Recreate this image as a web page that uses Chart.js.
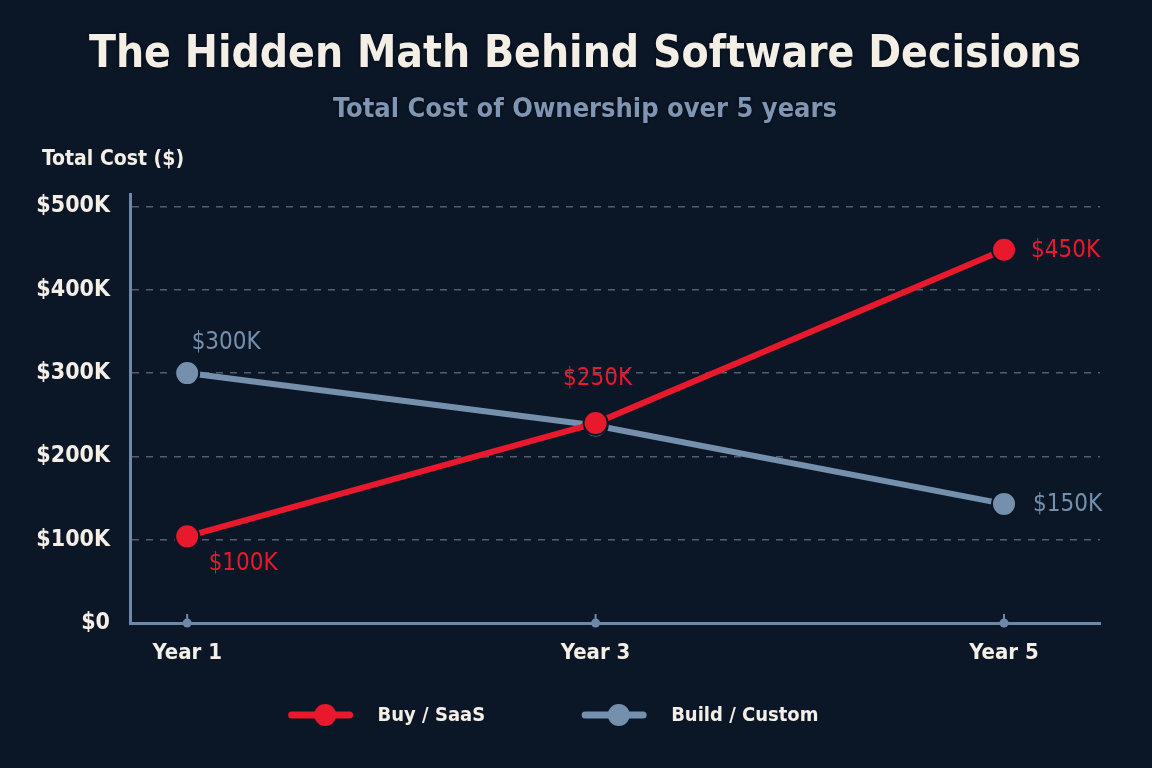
<!DOCTYPE html>
<html>
<head>
<meta charset="utf-8">
<script src="https://cdn.jsdelivr.net/npm/chart.js@4.4.1/dist/chart.umd.min.js"></script>
<style>
  html, body { margin: 0; padding: 0; background: #0b1727; }
  #wrap { width: 1152px; height: 768px; position: relative; }
</style>
</head>
<body>
<div id="wrap"><canvas id="tco"></canvas></div>
<script>
// ---- données (coût total, en milliers de $) ----
const years       = ['Year 1', 'Year 3', 'Year 5'];
const yearNums    = [1, 3, 5];
const buyCost     = [104, 240, 448];
const buildCost   = [300, 237, 143];
const buyLabels   = ['$100K', '$250K', '$450K'];
const buildLabels = ['$300K', '', '$150K'];
const yTicks      = [0, 100, 200, 300, 400, 500];

const TITLE    = 'The Hidden Math Behind Software Decisions';
const SUBTITLE = 'Total Cost of Ownership over 5 years';

const FONT   = '"Liberation Sans Narrow", "DejaVu Sans Condensed", Roboto, sans-serif';
const RED    = '#e8192c';
const SLATE  = '#7590ad';
const AXIS   = '#6d88a8';
const CREAM  = '#f4efe6';
const BG     = '#0b1727';

const fmtK = v => v === 0 ? '$0' : '$' + v + 'K';

// fond
const bgPlugin = {
  id: 'bg',
  beforeDraw(chart) {
    const { ctx, width, height } = chart;
    ctx.save();
    ctx.fillStyle = BG;
    ctx.fillRect(0, 0, width, height);
    ctx.restore();
  }
};

// titres, titre d'axe, repères de l'axe x, étiquettes de valeurs, légende
const extrasPlugin = {
  id: 'extras',
  afterDraw(chart) {
    const { ctx, scales: { x, y } } = chart;
    ctx.save();
    ctx.textBaseline = 'middle';

    // title + subtitle (centred slightly right of canvas centre, like the original)
    ctx.textAlign = 'center';
    ctx.shadowColor = 'rgba(0,0,0,0.8)';
    ctx.shadowBlur = 3;
    ctx.font = `bold 44px ${FONT}`;
    ctx.fillStyle = CREAM;
    ctx.fillText(TITLE, 585, 56);
    ctx.font = `bold 27px ${FONT}`;
    ctx.fillStyle = '#7e95b3';
    ctx.fillText(SUBTITLE, 585, 110);
    ctx.shadowBlur = 0;
    ctx.shadowColor = 'transparent';

    // Y axis title (horizontal, top-left)
    ctx.font = `bold 21px ${FONT}`;
    ctx.fillStyle = CREAM;
    ctx.textAlign = 'left';
    ctx.fillText('Total Cost ($)', 42, 160);

    // x tick markers (small stem + dot on the axis)
    const y0 = y.getPixelForValue(0);
    yearNums.forEach(v => {
      const px = x.getPixelForValue(v);
      ctx.strokeStyle = AXIS;
      ctx.lineWidth = 2;
      ctx.beginPath();
      ctx.moveTo(px, y0 - 9);
      ctx.lineTo(px, y0);
      ctx.stroke();
      ctx.fillStyle = AXIS;
      ctx.beginPath();
      ctx.arc(px, y0, 4.5, 0, Math.PI * 2);
      ctx.fill();
    });

    // value labels
    const place = [
      [{ dx: 56, dy: 27, a: 'center' }, { dx: 2, dy: -44, a: 'center' }, { dx: 27, dy: 1, a: 'left' }],
      [{ dx: 39, dy: -30, a: 'center' }, null, { dx: 29, dy: 1, a: 'left' }],
    ];
    const texts = [buyLabels, buildLabels];
    chart.data.datasets.forEach((ds, di) => {
      const meta = chart.getDatasetMeta(di);
      meta.data.forEach((pt, i) => {
        const p = place[di][i];
        if (!p || !texts[di][i]) return;
        ctx.font = `24px ${FONT}`;
        ctx.fillStyle = ds.borderColor;
        ctx.textAlign = p.a;
        ctx.fillText(texts[di][i], pt.x + p.dx, pt.y + p.dy);
      });
    });

    // legend
    ctx.font = `bold 20px ${FONT}`;
    const iconW = 58, gapIcon = 28, gapItem = 100, ly = 715;
    const items = chart.data.datasets.map(ds => ({ label: ds.label, color: ds.borderColor, w: ctx.measureText(ds.label).width }));
    const total = items.reduce((a, it) => a + iconW + gapIcon + it.w, 0) + gapItem * (items.length - 1);
    let lx = 555 - total / 2;
    items.forEach(it => {
      ctx.strokeStyle = it.color;
      ctx.lineWidth = 7;
      ctx.lineCap = 'round';
      ctx.beginPath();
      ctx.moveTo(lx, ly);
      ctx.lineTo(lx + iconW, ly);
      ctx.stroke();
      ctx.fillStyle = it.color;
      ctx.beginPath();
      ctx.arc(lx + iconW * 0.58, ly, 11, 0, Math.PI * 2);
      ctx.fill();
      ctx.fillStyle = CREAM;
      ctx.textAlign = 'left';
      ctx.fillText(it.label, lx + iconW + gapIcon, ly + 1);
      lx += iconW + gapIcon + it.w + gapItem;
    });

    ctx.restore();
  }
};

new Chart(document.getElementById('tco'), {
  type: 'line',
  data: {
    datasets: [
      {
        label: 'Buy / SaaS',
        data: yearNums.map((v, i) => ({ x: v, y: buyCost[i] })),
        borderColor: RED,
        backgroundColor: RED,
        borderWidth: 6,
        pointRadius: 12,
        pointBackgroundColor: RED,
        pointBorderColor: BG,
        pointBorderWidth: 2,
        tension: 0,
      },
      {
        label: 'Build / Custom',
        data: yearNums.map((v, i) => ({ x: v, y: buildCost[i] })),
        borderColor: SLATE,
        backgroundColor: SLATE,
        borderWidth: 6,
        pointRadius: 12,
        pointBackgroundColor: SLATE,
        pointBorderColor: BG,
        pointBorderWidth: 2,
        tension: 0,
      },
    ],
  },
  options: {
    responsive: true,
    maintainAspectRatio: false,
    animation: false,
    layout: { padding: { left: 0, right: 52, top: 194, bottom: 90 } },
    plugins: {
      legend: { display: false },
      tooltip: { enabled: false },
    },
    scales: {
      x: {
        type: 'linear',
        min: 0.72,
        max: 5.47,
        afterBuildTicks: s => { s.ticks = yearNums.map(v => ({ value: v })); },
        afterFit: s => { s.height = 55; },
        grid: { display: false, drawTicks: false },
        border: { display: true, color: AXIS, width: 3 },
        ticks: {
          color: CREAM,
          padding: 17,
          font: { family: FONT, size: 22, weight: 'bold' },
          callback: v => years[yearNums.indexOf(v)] || '',
          maxRotation: 0,
        },
      },
      y: {
        min: 0,
        max: 515,
        afterBuildTicks: s => { s.ticks = yTicks.map(v => ({ value: v })); },
        afterFit: s => { s.width = 130; },
        grid: {
          drawTicks: false,
          color: c => (c.tick && c.tick.value === 0) ? 'rgba(0,0,0,0)' : 'rgba(140,155,175,0.55)',
          lineWidth: 1.5,
        },
        border: { display: true, color: AXIS, width: 3, dash: [7, 7] },
        ticks: {
          color: CREAM,
          padding: 20,
          font: { family: FONT, size: 23, weight: 'bold' },
          callback: v => fmtK(v),
        },
      },
    },
  },
  plugins: [bgPlugin, extrasPlugin],
});
</script>
</body>
</html>
